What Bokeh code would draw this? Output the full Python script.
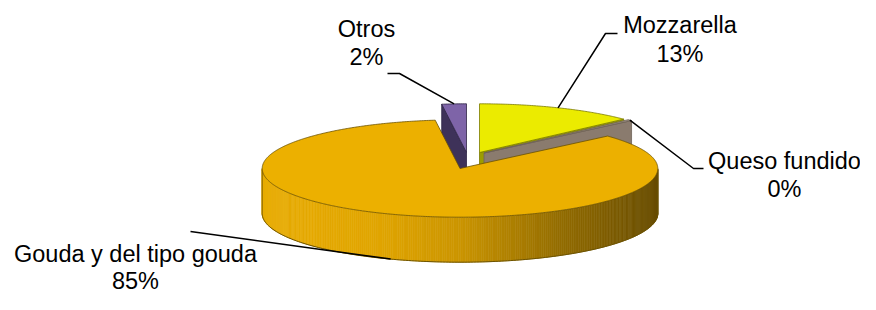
import numpy as np
from bokeh.plotting import figure
from bokeh.models import Range1d
from bokeh.embed import file_html
from bokeh.resources import INLINE
from bokeh.core.properties import value

# ---------------- data ----------------
categories = ["Mozzarella", "Queso fundido", "Gouda y del tipo gouda", "Otros"]
shares = [13.0, 0.4, 84.6, 2.0]

# ---------------- style / layout ----------------
top_colors = ["#EBEB00", "#978A7E", "#ECB000", "#7E64A8"]
face_colors = ["#9C9C00", "#8A7B6E", "#C08F00", "#3E3259"]
edge_colors = ["#7A7A00", "#6E6258", "#6B5200", "#2E2545"]
explode = [(19.5, -16.0), (24.0, -15.5), (0.0, 0.0), (6.5, -16.0)]
CX, CY, RX, RY, DEPTH = 459.5, 168.0, 197.8, 48.7, 45.0

# label layout: (center x, baseline line1, baseline line2)
label_pos = [(679.5, 32.7, 61.0), (784.0, 168.3, 196.6), (135.0, 261.0, 288.0), (366.0, 36.0, 64.3)]
TEXT_DY = -8.0
# leader line elbows (from slice anchor to these points)
leader_pts = [[(605, 33), (617, 33)], [(693, 168), (703, 168)], [(190, 231)], [(399, 73), (387, 73)]]

FONT = "Liberation Sans"
FS = "23.5px"

W, H = 860, 294
p = figure(width=W, height=H, output_backend="svg", toolbar_location=None,
           x_range=Range1d(0, W), y_range=Range1d(H, 0),
           min_border=0)
p.axis.visible = False
p.grid.visible = False
p.outline_line_color = None
p.background_fill_color = "white"


def pt(cx, cy, ang, dz=0.0):
    r = np.radians(ang)
    return cx + RX * np.cos(r), cy - RY * np.sin(r) + dz


def grad(t):
    stops = [(0.0, (232, 172, 4)), (0.3, (224, 165, 0)), (0.5, (203, 149, 0)),
             (0.75, (148, 109, 0)), (1.0, (104, 77, 0))]
    for (t0, c0), (t1, c1) in zip(stops[:-1], stops[1:]):
        if t <= t1:
            f = (t - t0) / (t1 - t0)
            c = [int(round(a + (b - a) * f)) for a, b in zip(c0, c1)]
            return "#%02x%02x%02x" % tuple(c)
    return "#%02x%02x%02x" % stops[-1][1]


total = sum(shares)
spans = [s / total * 360.0 for s in shares]
bounds = []
cum = 0.0
for sp in spans:
    hi = 90.0 - cum
    lo = hi - sp
    bounds.append((lo, hi))
    cum += sp

mids = [(lo + hi) / 2 for lo, hi in bounds]
order = sorted(range(len(shares)), key=lambda i: -np.sin(np.radians(mids[i])))

for i in order:
    lo, hi = bounds[i]
    cx, cy = CX + explode[i][0], CY + explode[i][1]
    # radial faces
    for ang, normal in ((lo, lo - 90), (hi, hi + 90)):
        if np.sin(np.radians(normal)) < -1e-6:
            ex, ey = pt(cx, cy, ang)
            p.patch([cx, ex, ex, cx], [cy, ey, ey + DEPTH, cy + DEPTH],
                    fill_color=face_colors[i], line_color=edge_colors[i], line_width=0.8)
    # outer side (front-facing part)
    n = max(4, int((hi - lo) * 1.5))
    angs = np.linspace(lo, hi, n + 1)
    xs_list, ys_list, cols = [], [], []
    vis = []
    for a0, a1 in zip(angs[:-1], angs[1:]):
        am = (a0 + a1) / 2
        if np.sin(np.radians(am)) < 0:
            x0, y0 = pt(cx, cy, a0)
            x1, y1 = pt(cx, cy, a1)
            xs_list.append([x0, x1, x1, x0])
            ys_list.append([y0, y1, y1 + DEPTH, y0 + DEPTH])
            t = (np.cos(np.radians(am)) + 1) / 2
            cols.append(grad(t) if i == 2 else face_colors[i])
            vis.append((a0, a1))
    if xs_list:
        p.patches(xs_list, ys_list, fill_color=cols, line_color=cols, line_width=0.6)
        a_first = vis[0][0]
        a_last = vis[-1][1]
        ba = np.linspace(a_first, a_last, 200)
        bx, by = pt(cx, cy, ba, DEPTH)
        p.line(bx, by, line_color=edge_colors[i], line_width=1.0)
        for a in (a_first, a_last):
            x, y = pt(cx, cy, a)
            p.line([x, x], [y, y + DEPTH], line_color=edge_colors[i], line_width=0.8)
    # top face
    ta = np.linspace(lo, hi, max(3, int((hi - lo) * 2)))
    tx, ty = pt(cx, cy, ta)
    p.patch(np.concatenate([[cx], tx]), np.concatenate([[cy], ty]),
            fill_color=top_colors[i], line_color=edge_colors[i], line_width=0.8)

# labels and leader lines
for i, name in enumerate(categories):
    lo, hi = bounds[i]
    cx, cy = CX + explode[i][0], CY + explode[i][1]
    m = mids[i]
    dz = DEPTH if np.sin(np.radians(m)) < 0 else 0.0
    ax, ay = pt(cx, cy, m, dz)
    lx = [ax] + [q[0] for q in leader_pts[i]]
    ly = [ay] + [q[1] for q in leader_pts[i]]
    p.line(lx, ly, line_color="black", line_width=1.5)
    pct = "%d%%" % int(round(shares[i] / total * 100))
    x, b1, b2 = label_pos[i]
    p.text(x=[x, x], y=[b1 + TEXT_DY, b2 + TEXT_DY], text=[name, pct], text_font=value(FONT),
           text_font_size=FS, text_color="black", text_align="center",
           text_baseline="alphabetic")

open("out.html", "w").write(file_html(p, INLINE))
